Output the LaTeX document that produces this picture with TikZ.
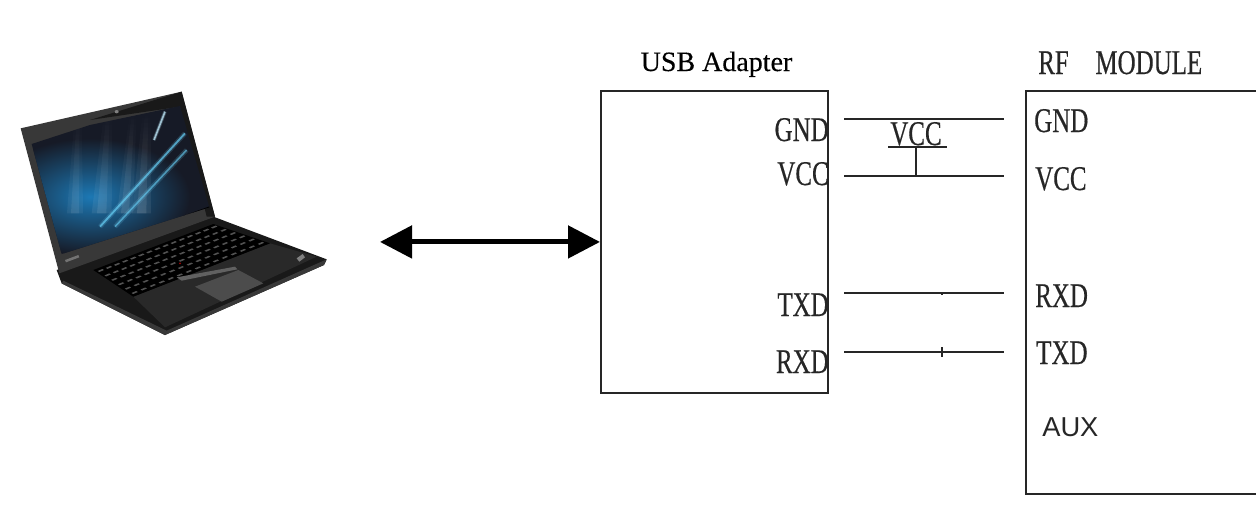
\documentclass[tikz,border=0pt]{standalone}
\usepackage{fontspec}
\setmainfont[FakeBold=0.25]{Liberation Serif}
\newfontfamily\narrowserif[FakeStretch=0.72,FakeBold=0.35]{Liberation Serif}
\newfontfamily\plainsans{Liberation Sans}
\usetikzlibrary{arrows.meta,fadings}
\definecolor{inkgrey}{HTML}{262626}
\definecolor{linegrey}{HTML}{262626}
\definecolor{screenblue}{HTML}{1C78B4}
\definecolor{screendark}{HTML}{161A26}
\tikzset{
  pinlabel/.style={inner sep=0pt,text=inkgrey,font=\narrowserif\fontsize{26}{26}\selectfont},
  titlelabel/.style={inner sep=0pt,text=black,font=\fontsize{21}{21}\selectfont},
  auxlabel/.style={inner sep=0pt,text=inkgrey,font=\plainsans\fontsize{20.5}{21}\selectfont},
  modulebox/.style={draw=linegrey,line width=1.4pt,inner sep=0pt,anchor=north west},
  wire/.style={draw=linegrey,line width=1.1pt},
  tickmark/.style={draw=linegrey,line width=0.8pt},
  bigarrow/.style={draw=black,line width=3.8pt,{Triangle[width=24pt,length=24pt]}-{Triangle[width=24pt,length=24pt]}},
}
\begin{document}
\begin{tikzpicture}[x=0.75pt,y=-0.75pt]
\useasboundingbox[fill=white] (0,0) rectangle (1256,511);

% ---- laptop (coordinates are in 3x crop pixels, offset 70 px down)
\begin{scope}[x=0.25pt,y=-0.25pt,yshift=-52.5pt]
  % base
  \fill[black!90] (170,600) -- (640,440) -- (980,568) -- (972,585) -- (495,795) -- (185,640) -- cycle;
  \fill[black!78] (495,795) -- (972,585) -- (980,568) -- (500,782) -- (190,632) -- (185,640) -- cycle;
  \fill[black!84] (400,680) -- (810,520) -- (950,560) -- (495,772) -- cycle;
  % keyboard well
  \fill[black] (280,600) -- (640,462) -- (810,520) -- (400,680) -- cycle;
  \foreach \r in {0,...,5}{
    \foreach \c in {0,...,14}{
      \pgfmathsetmacro{\u}{(\c+0.5)/15}
      \pgfmathsetmacro{\v}{(\r+0.5)/6}
      \pgfmathsetmacro{\kx}{(1-\v)*(280+\u*360)+\v*(400+\u*410)}
      \pgfmathsetmacro{\ky}{(1-\v)*(600-\u*138)+\v*(680-\u*160)}
      \fill[black!68] (\kx-9,\ky+1) -- (\kx+5,\ky-5) -- (\kx+10,\ky-2) -- (\kx-4,\ky+4) -- cycle;
    }
  }
  \fill[red!65!black] (540,580) circle (3);
  % trackpad
  \fill[black!70] (585,650) -- (715,600) -- (790,640) -- (665,695) -- cycle;
  \fill[black!62] (530,622) -- (705,590) -- (712,598) -- (545,632) -- cycle;
  % palm-rest logo
  \fill[black!50] (890,565) -- (908,552) -- (915,562) -- (898,575) -- cycle;
  % lid
  \fill[black!78] (62,175) -- (545,65) -- (645,440) -- (178,610) -- cycle;
  \fill[black!90] (270,150) -- (545,65) -- (645,440) -- (620,440) -- (540,110) -- cycle;
  % screen
  \begin{scope}
    \clip (95,222) -- (270,165) -- (540,108) -- (628,412) -- (185,552) -- cycle;
    \fill[screendark] (60,60) rectangle (680,600);
    \shade[inner color=screenblue,outer color=screendark]
      (270,380) ellipse (300 and 175);
    \foreach \xa/\xb/\wa/\wb/\o in {235/225/4/12/.08,235/225/10/24/.06,325/305/5/14/.09,325/305/12/30/.07,400/375/4/12/.10,400/375/10/24/.07,440/425/5/14/.11,440/425/12/28/.08}{
      \fill[white,opacity=\o,path fading=north]
        (\xa-\wa,120) -- (\xa+\wa,120) -- (\xb+\wb,430) -- (\xb-\wb,430) -- cycle;
    }
    \draw[cyan!55!white,line width=3.5pt,opacity=.18] (300,470) -- (555,190);
    \draw[cyan!60!white,line width=1.4pt,opacity=.7] (300,470) -- (555,190);
    \draw[cyan!55!white,line width=3.5pt,opacity=.18] (345,470) -- (560,240);
    \draw[cyan!60!white,line width=1.2pt,opacity=.6] (345,470) -- (560,240);
    \draw[cyan!25!white,line width=2.5pt,opacity=.25] (462,210) -- (495,125);
    \draw[cyan!25!white,line width=1.2pt,opacity=.75] (462,210) -- (495,125);
    % reflection of the lower right corner
    \fill[black] (430,480) -- (640,405) -- (650,500) -- (440,510) -- cycle;
  \end{scope}
  \fill[black!50] (350,125) ellipse (6 and 5);
  \fill[black!55] (195,570) -- (235,555) -- (238,562) -- (198,577) -- cycle;
\end{scope}

% ---- boxes
\node[modulebox,minimum width=170.25pt,minimum height=226.5pt] (usb) at (600,90) {};
\node[modulebox,minimum width=176pt,minimum height=302.25pt] (rf) at (1025,90) {};

% ---- titles
\node[titlelabel,anchor=base] (usbtitle) at (716.5,71) {USB Adapter};
\node[pinlabel,anchor=base west] (rftitle) at (1038,74) {RF\hspace{20pt}MODULE};

% ---- adapter pins
\node[pinlabel,anchor=base east] (ugnd) at (829,141) {GND};
\node[pinlabel,anchor=base east] (uvcc) at (829,185) {VCC};
\node[pinlabel,anchor=base east] (utxd) at (829,316) {TXD};
\node[pinlabel,anchor=base east] (urxd) at (829,373) {RXD};

% ---- module pins
\node[pinlabel,anchor=base west] (rgnd) at (1034,132) {GND};
\node[pinlabel,anchor=base west] (rvcc) at (1035,190) {VCC};
\node[pinlabel,anchor=base west] (rrxd) at (1035,307) {RXD};
\node[pinlabel,anchor=base west] (rtxd) at (1036,364) {TXD};
\node[auxlabel,anchor=base west] (raux) at (1042,436) {AUX};

% ---- wire ends
\coordinate (g1) at (844,119);  \coordinate (g2) at (1004,119);
\coordinate (v1) at (844,176);  \coordinate (v2) at (1004,176);
\coordinate (t1) at (844,293);  \coordinate (t2) at (1004,293);
\coordinate (x1) at (844,352);  \coordinate (x2) at (1004,352);
\coordinate (vj) at (916,176);  \coordinate (vt) at (916,147);
\coordinate (bl) at (888,147);  \coordinate (br) at (947,147);
\coordinate (ta) at (942,292);  \coordinate (tb) at (942,295);
\coordinate (xa) at (942,347);  \coordinate (xb) at (942,357);
\coordinate (arrowend) at (380,241);

\draw[wire] (g1) -- (g2);
\draw[wire] (v1) -- (v2);
\draw[wire] (t1) -- (t2);
\draw[wire] (x1) -- (x2);
\draw[wire] (vj) -- (vt);
\draw[wire] (bl) -- (br);
\draw[tickmark] (ta) -- (tb);
\draw[tickmark] (xa) -- (xb);

\node[pinlabel,anchor=base] (vccmid) at (916,145) {VCC};

% ---- double arrow
\draw[bigarrow] (arrowend |- usb.west) -- (usb.west);
\end{tikzpicture}
\end{document}
